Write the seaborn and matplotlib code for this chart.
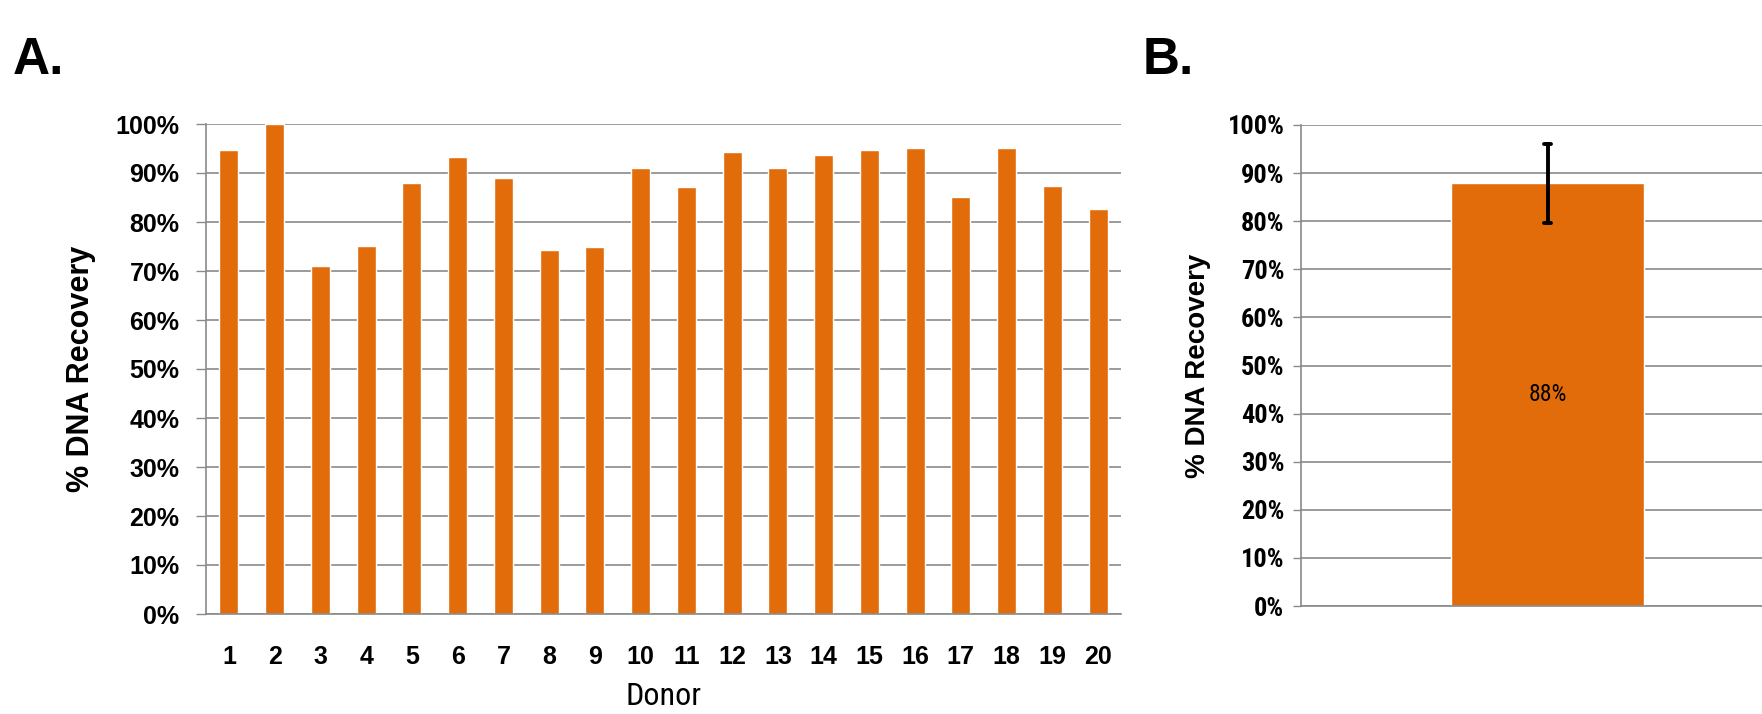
import numpy as np
import pandas as pd
import matplotlib
matplotlib.use("Agg")
import matplotlib.pyplot as plt
import seaborn as sns
from matplotlib import font_manager

# ---- data ----
donors = [str(i) for i in range(1, 21)]
recovery = [94.6, 100.0, 71.0, 75.1, 88.0, 93.2, 89.0, 74.2, 74.8, 91.0,
            87.1, 94.3, 91.0, 93.7, 94.6, 95.1, 85.0, 95.1, 87.3, 82.7]
y_ticks = [0, 10, 20, 30, 40, 50, 60, 70, 80, 90, 100]
y_tick_labels = [f"{t}%" for t in y_ticks]

ORANGE = "#E36C0A"
GRID = "#8a8a8a"

sns.set_theme(style="white")
plt.rcParams["font.family"] = ["Liberation Sans", "DejaVu Sans"]
plt.rcParams["text.color"] = "black"
plt.rcParams["axes.labelcolor"] = "black"
plt.rcParams["xtick.color"] = "black"
plt.rcParams["ytick.color"] = "black"

# pick a narrow font if one is installed
entries = font_manager.fontManager.ttflist
names = {f.name for f in entries}
NARROW_FAMILY, NARROW_STRETCH = "Liberation Sans", "normal"
if "Liberation Sans Narrow" in names:
    NARROW_FAMILY = "Liberation Sans Narrow"
elif "Roboto Condensed" in names:
    NARROW_FAMILY = "Roboto Condensed"
elif any(f.name == "DejaVu Sans" and str(f.stretch) in ("condensed", "semi-condensed") for f in entries):
    NARROW_FAMILY, NARROW_STRETCH = "DejaVu Sans", "condensed"
elif "Open Sans Condensed" in names:
    NARROW_FAMILY = "Open Sans Condensed"
elif "Roboto" in names:
    NARROW_FAMILY = "Roboto"
narrow_kw = {"family": NARROW_FAMILY, "fontstretch": NARROW_STRETCH}

fig = plt.figure(figsize=(17.62, 7.14), dpi=100)

# ---- Panel A ----
axA = fig.add_axes([206 / 1762, 1 - 614 / 714, (1121 - 206) / 1762, (614 - 124) / 714])
dfA = pd.DataFrame({"Donor": donors, "Recovery": recovery})
sns.barplot(data=dfA, x="Donor", y="Recovery", color=ORANGE, saturation=1,
            width=0.41, ax=axA)
axA.set_xlim(-0.5, 19.5)
axA.set_ylim(0, 100)
axA.set_yticks(y_ticks)
axA.set_yticklabels(y_tick_labels, fontsize=18, fontweight="bold")
axA.set_xticks(np.arange(20))
axA.set_xticklabels(donors, fontsize=18, fontweight="bold")
axA.set_xticks(np.arange(-0.5, 20, 1), minor=True)
axA.tick_params(axis="x", which="major", length=0, pad=22)
axA.tick_params(axis="x", which="minor", length=6, width=1, color=GRID, direction="out")
axA.tick_params(axis="y", length=7, width=1, color=GRID, pad=12, left=True)
axA.yaxis.grid(True, color=GRID, linewidth=1.2)
axA.set_axisbelow(True)
for s in ["top", "right"]:
    axA.spines[s].set_visible(False)
for s in ["left", "bottom"]:
    axA.spines[s].set_color(GRID)
    axA.spines[s].set_linewidth(1.2)
axA.set_ylabel("% DNA Recovery", fontsize=22, fontweight="bold", labelpad=14)
axA.set_xlabel("Donor", fontsize=23, labelpad=10, **narrow_kw)

# ---- Panel B ----
axB = fig.add_axes([1301 / 1762, 1 - 606 / 714, (1762 - 1301) / 1762, (606 - 125) / 714])
dfB = pd.DataFrame({"Group": [""] * len(recovery), "Recovery": recovery})
sns.barplot(data=dfB, x="Group", y="Recovery", color=ORANGE, saturation=1,
            errorbar="sd", capsize=0.015, width=0.42,
            err_kws={"color": "black", "linewidth": 2.8}, ax=axB)
axB.set_xlim(-0.535, 0.465)
axB.set_ylim(0, 100)
axB.set_yticks(y_ticks)
axB.set_yticklabels(y_tick_labels, fontsize=19, fontweight="bold", **narrow_kw)
axB.set_xticks([])
axB.set_xlabel("")
axB.tick_params(axis="y", length=6, width=1, color=GRID, pad=6, left=True)
axB.yaxis.grid(True, color=GRID, linewidth=1.2)
axB.set_axisbelow(True)
for s in ["top", "right"]:
    axB.spines[s].set_visible(False)
for s in ["left", "bottom"]:
    axB.spines[s].set_color(GRID)
    axB.spines[s].set_linewidth(1.2)
axB.set_ylabel("% DNA Recovery", fontsize=20, fontweight="bold", labelpad=12)
mean_val = float(np.mean(recovery))
axB.bar_label(axB.containers[0], labels=[f"{mean_val:.0f}%"], label_type="center",
              fontsize=17, **narrow_kw)

# ---- panel letters ----
fig.text(13 / 1762, 1 - 74 / 714, "A.", fontsize=37, fontweight="bold", ha="left", va="baseline")
fig.text(1143 / 1762, 1 - 74 / 714, "B.", fontsize=37, fontweight="bold", ha="left", va="baseline")

fig.savefig("out.png", dpi=100, facecolor="white")
